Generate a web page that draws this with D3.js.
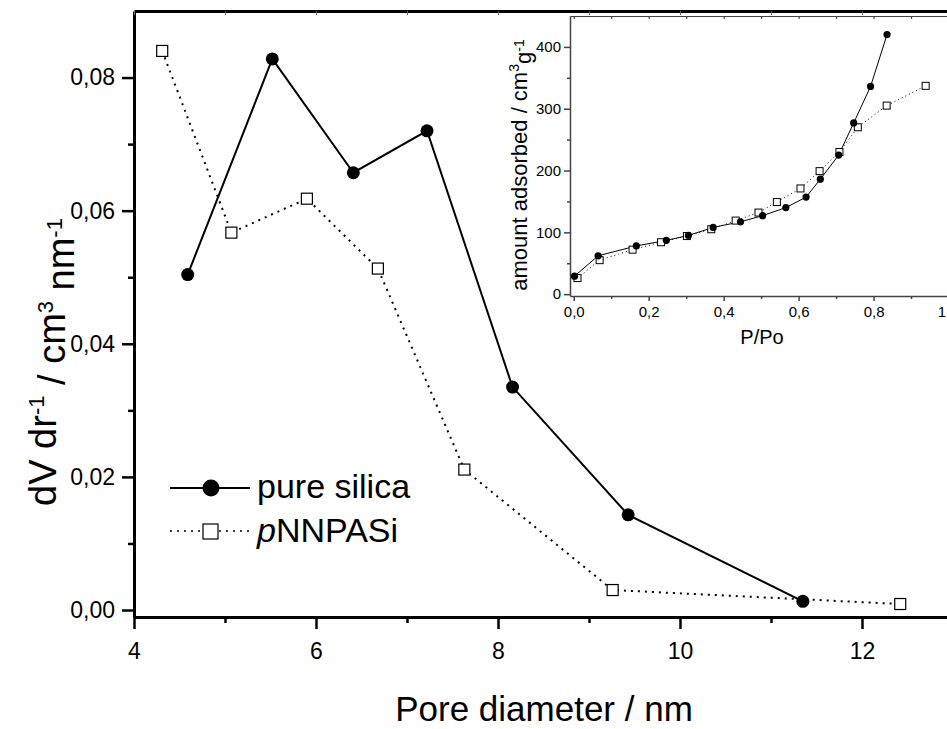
<!DOCTYPE html>
<html>
<head>
<meta charset="utf-8">
<script src="https://cdn.jsdelivr.net/npm/d3@7"></script>
<style>
  body { margin: 0; background: #fff; }
  svg { display: block; font-family: "Liberation Sans", Arial, sans-serif; }
</style>
</head>
<body>
<div id="chart"></div>
<script>

// main plot: pore size distribution

let silicaD = [4.59, 5.52, 6.41, 7.22, 8.16, 9.43, 11.35];
let silicaV = [0.0504, 0.0828, 0.0657, 0.0720, 0.0335, 0.0143, 0.0013];

let pnnD = [4.31, 5.07, 5.90, 6.68, 7.63, 9.26, 12.42];
let pnnV = [0.0840, 0.0567, 0.0618, 0.0513, 0.0211, 0.0030, 0.0009];

let xMajor = [4, 6, 8, 10, 12];
let xMinor = [5, 7, 9, 11];
let yMajor = [0, 0.02, 0.04, 0.06, 0.08];
let yMinor = [0.01, 0.03, 0.05, 0.07];

// inset: adsorption isotherms

let silicaP = [0.002, 0.065, 0.167, 0.247, 0.306, 0.372, 0.445, 0.504, 0.566, 0.620, 0.658, 0.707, 0.747, 0.792, 0.836];
let silicaA = [29, 62, 78, 87, 95, 108, 117, 127, 140, 157, 186, 225, 277, 336, 420];

let pnnP = [0.010, 0.069, 0.157, 0.233, 0.302, 0.367, 0.432, 0.493, 0.542, 0.605, 0.656, 0.709, 0.758, 0.835, 0.939];
let pnnA = [26, 55, 72, 84, 94, 105, 119, 132, 149, 171, 199, 230, 270, 305, 337];

let ixMajor = [0, 0.2, 0.4, 0.6, 0.8, 1];
let ixMinor = [0.1, 0.3, 0.5, 0.7, 0.9];
let iyMajor = [0, 100, 200, 300, 400];
let iyMinor = [50, 150, 250, 350];

let W = 947, H = 729;
let font = "'Liberation Sans', Arial, sans-serif";

let svg = d3.select("#chart")
  .append("svg")
    .attr("width", W)
    .attr("height", H);

let x = d3.scaleLinear().domain([4, 13]).range([134, 953]);
let y = d3.scaleLinear().domain([-0.00105, 0.09]).range([617, 11]);

let comma = d => d3.format(".2f")(d).replace(".", ",");

// x axis (bottom)
let gx = svg.append("g")
  .attr("transform", `translate(0,${y.range()[0]})`)
  .call(d3.axisBottom(x).tickValues(xMajor).tickSize(12).tickSizeOuter(0).tickPadding(14)
    .tickFormat(d3.format("d")))
  .attr("font-family", font)
  .attr("font-size", 23);
gx.selectAll(".tick text").attr("fill", "#000");
gx.selectAll(".tick line").attr("stroke-width", 2.5);
gx.select(".domain").attr("stroke-width", 3);

svg.append("g")
  .attr("transform", `translate(0,${y.range()[0]})`)
  .call(d3.axisBottom(x).tickValues(xMinor).tickSize(6).tickFormat(""))
  .call(g => g.select(".domain").remove())
  .selectAll(".tick line").attr("stroke-width", 2.5);

// y axis (left)
let gy = svg.append("g")
  .attr("transform", `translate(${x.range()[0]},0)`)
  .call(d3.axisLeft(y).tickValues(yMajor).tickSize(12).tickSizeOuter(0).tickPadding(7)
    .tickFormat(comma))
  .attr("font-family", font)
  .attr("font-size", 23);
gy.selectAll(".tick text").attr("fill", "#000");
gy.selectAll(".tick line").attr("stroke-width", 2.5);
gy.select(".domain").attr("stroke-width", 3);

svg.append("g")
  .attr("transform", `translate(${x.range()[0]},0)`)
  .call(d3.axisLeft(y).tickValues(yMinor).tickSize(6).tickFormat(""))
  .call(g => g.select(".domain").remove())
  .selectAll(".tick line").attr("stroke-width", 2.5);

// top frame
svg.append("g")
  .attr("transform", `translate(0,${y.range()[1]})`)
  .call(d3.axisBottom(x).tickValues(xMajor.concat(xMinor)).tickSize(4).tickSizeOuter(0).tickFormat(""))
  .call(g => g.select(".domain").attr("stroke-width", 3))
  .selectAll(".tick line").attr("stroke-width", 1).attr("stroke", "#666");

// axis titles
svg.append("text")
  .attr("x", 544)
  .attr("y", 721)
  .attr("text-anchor", "middle")
  .style("font-size", "35px")
  .text("Pore diameter / nm");

let yTitle = svg.append("text")
  .attr("transform", "translate(56,362) rotate(-90)")
  .attr("text-anchor", "middle")
  .style("font-size", "38px");
yTitle.append("tspan").text("dV dr");
yTitle.append("tspan").attr("dy", "-0.55em").style("font-size", "22px").text("-1");
yTitle.append("tspan").attr("dy", "0.55em").text(" / cm");
yTitle.append("tspan").attr("dy", "-0.55em").style("font-size", "22px").text("3");
yTitle.append("tspan").attr("dy", "0.55em").text(" nm");
yTitle.append("tspan").attr("dy", "-0.55em").style("font-size", "22px").text("-1");

// main lines
let silica = silicaD.map((d, i) => ({ x: d, y: silicaV[i] }));
let pnn = pnnD.map((d, i) => ({ x: d, y: pnnV[i] }));

let line = d3.line().x(d => x(d.x)).y(d => y(d.y));

svg.append("path")
  .datum(pnn)
  .attr("fill", "none")
  .attr("stroke", "#000")
  .attr("stroke-width", 2)
  .attr("stroke-dasharray", "2,5")
  .attr("d", line);

svg.append("path")
  .datum(silica)
  .attr("fill", "none")
  .attr("stroke", "#000")
  .attr("stroke-width", 2)
  .attr("d", line);

svg.selectAll(".sq")
  .data(pnn)
  .join("rect")
    .attr("x", d => x(d.x) - 5.5)
    .attr("y", d => y(d.y) - 5.5)
    .attr("width", 11)
    .attr("height", 11)
    .attr("fill", "#fff")
    .attr("stroke", "#000")
    .attr("stroke-width", 1.2);

svg.selectAll(".dot")
  .data(silica)
  .join("circle")
    .attr("cx", d => x(d.x))
    .attr("cy", d => y(d.y))
    .attr("r", 6.5)
    .attr("fill", "#000");

// legend
let leg = svg.append("g");
leg.append("line").attr("x1", 170).attr("x2", 250).attr("y1", 488).attr("y2", 488)
  .attr("stroke", "#000").attr("stroke-width", 2);
leg.append("circle").attr("cx", 211).attr("cy", 488).attr("r", 8.5).attr("fill", "#000");
leg.append("text").attr("x", 257).attr("y", 498).style("font-size", "34px").text("pure silica");

leg.append("line").attr("x1", 170).attr("x2", 250).attr("y1", 531).attr("y2", 531)
  .attr("stroke", "#000").attr("stroke-width", 1.5).attr("stroke-dasharray", "2,5");
leg.append("rect").attr("x", 203).attr("y", 524).attr("width", 15).attr("height", 15)
  .attr("fill", "#fff").attr("stroke", "#000").attr("stroke-width", 1.2);
let legT = leg.append("text").attr("x", 257).attr("y", 542).style("font-size", "34px");
legT.append("tspan").style("font-style", "italic").text("p");
legT.append("tspan").text("NNPASi");

// inset
let ix = d3.scaleLinear().domain([-0.01, 1.02]).range([570, 956]);
let iy = d3.scaleLinear().domain([-3, 450]).range([296, 16]);

svg.append("rect")
  .attr("x", ix.range()[0]).attr("y", iy.range()[1])
  .attr("width", ix.range()[1] - ix.range()[0])
  .attr("height", iy.range()[0] - iy.range()[1])
  .attr("fill", "#fff");

let axisCol = "#444";

let igx = svg.append("g")
  .attr("transform", `translate(0,${iy.range()[0]})`)
  .call(d3.axisBottom(ix).tickValues(ixMajor).tickSize(5).tickSizeOuter(0).tickPadding(5)
    .tickFormat(d => d === 1 ? "1" : d.toFixed(1).replace(".", ",")))
  .attr("font-family", font)
  .attr("font-size", 15);
igx.selectAll(".tick text").attr("fill", "#000");
igx.selectAll(".tick text").filter(d => d === 1).attr("dx", -7);
igx.selectAll("line, path").attr("stroke", axisCol).attr("stroke-width", 1.5);

svg.append("g")
  .attr("transform", `translate(0,${iy.range()[0]})`)
  .call(d3.axisBottom(ix).tickValues(ixMinor).tickSize(3).tickFormat(""))
  .call(g => g.select(".domain").remove())
  .selectAll("line").attr("stroke", axisCol).attr("stroke-width", 1.5);

let igy = svg.append("g")
  .attr("transform", `translate(${ix.range()[0]},0)`)
  .call(d3.axisLeft(iy).tickValues(iyMajor).tickSize(6).tickSizeOuter(0).tickPadding(3))
  .attr("font-family", font)
  .attr("font-size", 15);
igy.selectAll(".tick text").attr("fill", "#000");
igy.selectAll("line, path").attr("stroke", axisCol).attr("stroke-width", 1.5);

svg.append("g")
  .attr("transform", `translate(${ix.range()[0]},0)`)
  .call(d3.axisLeft(iy).tickValues(iyMinor).tickSize(3).tickFormat(""))
  .call(g => g.select(".domain").remove())
  .selectAll("line").attr("stroke", axisCol).attr("stroke-width", 1.5);

// inset top frame
svg.append("g")
  .attr("transform", `translate(0,${iy.range()[1]})`)
  .call(d3.axisBottom(ix).tickValues(ixMajor.concat(ixMinor)).tickSize(3).tickSizeOuter(0).tickFormat(""))
  .selectAll("line, path").attr("stroke", axisCol).attr("stroke-width", 1.2);

svg.append("text")
  .attr("x", 762)
  .attr("y", 344)
  .attr("text-anchor", "middle")
  .style("font-size", "20px")
  .text("P/Po");

let iyTitle = svg.append("text")
  .attr("transform", "translate(527,165) rotate(-90)")
  .attr("text-anchor", "middle")
  .style("font-size", "22px");
iyTitle.append("tspan").text("amount adsorbed / cm");
iyTitle.append("tspan").attr("dy", "-0.55em").style("font-size", "14px").text("3");
iyTitle.append("tspan").attr("dy", "0.55em").text("g");
iyTitle.append("tspan").attr("dy", "-0.55em").style("font-size", "14px").text("-1");

let iSilica = silicaP.map((p, i) => ({ x: p, y: silicaA[i] }));
let iPnn = pnnP.map((p, i) => ({ x: p, y: pnnA[i] }));

let iline = d3.line().x(d => ix(d.x)).y(d => iy(d.y));

svg.append("path")
  .datum(iPnn)
  .attr("fill", "none")
  .attr("stroke", "#000")
  .attr("stroke-width", 1)
  .attr("stroke-dasharray", "1,3")
  .attr("d", iline);

svg.append("path")
  .datum(iSilica)
  .attr("fill", "none")
  .attr("stroke", "#000")
  .attr("stroke-width", 1)
  .attr("d", iline);

svg.selectAll(".isq")
  .data(iPnn)
  .join("rect")
    .attr("x", d => ix(d.x) - 3.5)
    .attr("y", d => iy(d.y) - 3.5)
    .attr("width", 7)
    .attr("height", 7)
    .attr("fill", "#fff")
    .attr("stroke", "#000")
    .attr("stroke-width", 1);

svg.selectAll(".idot")
  .data(iSilica)
  .join("circle")
    .attr("cx", d => ix(d.x))
    .attr("cy", d => iy(d.y))
    .attr("r", 3.6)
    .attr("fill", "#000");

</script>
</body>
</html>
